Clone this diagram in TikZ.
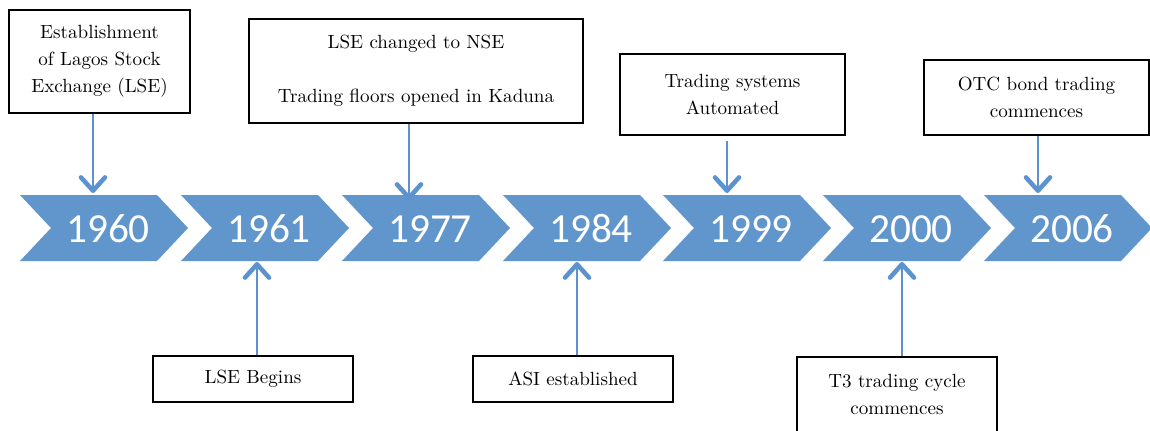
\documentclass[tikz,border=0pt]{standalone}
\usepackage{fontspec}
\newfontfamily\yearfont{Carlito}
\newfontfamily\boxfont{lmroman10-regular.otf}
\usetikzlibrary{arrows.meta}
\definecolor{chevblue}{RGB}{97,150,204}
\definecolor{linkblue}{RGB}{92,146,206}
\tikzset{
	chev/.style={fill=chevblue},
	yearlabel/.style={text=white, inner sep=0pt, font=\yearfont\fontsize{31}{36}\selectfont},
	eventbox/.style={draw, line width=1.2pt, align=center, inner sep=0pt, font=\boxfont\fontsize{14.3}{20.25}\selectfont},
	eventlink/.style={draw=linkblue, line width=2.2pt, -{Straight Barb[length=10pt,width=18pt,line width=3.4pt,round]}}
}
\begin{document}
\begin{tikzpicture}[x=0.75pt,y=-0.75pt]
	\path[fill=white,use as bounding box] (0,0) rectangle (1150,430);
	% chevrons
	\fill[chev] (20,195) -- ++(137,0) -- ++(31,33) -- ++(-31,33) -- ++(-137,0) -- ++(31,-33) -- cycle;
	\fill[chev] (181,195) -- ++(137,0) -- ++(31,33) -- ++(-31,33) -- ++(-137,0) -- ++(31,-33) -- cycle;
	\fill[chev] (342,195) -- ++(137,0) -- ++(31,33) -- ++(-31,33) -- ++(-137,0) -- ++(31,-33) -- cycle;
	\fill[chev] (503,195) -- ++(137,0) -- ++(31,33) -- ++(-31,33) -- ++(-137,0) -- ++(31,-33) -- cycle;
	\fill[chev] (663,195) -- ++(137,0) -- ++(31,33) -- ++(-31,33) -- ++(-137,0) -- ++(31,-33) -- cycle;
	\fill[chev] (823,195) -- ++(137,0) -- ++(31,33) -- ++(-31,33) -- ++(-137,0) -- ++(31,-33) -- cycle;
	\fill[chev] (984,195) -- ++(137,0) -- ++(31,33) -- ++(-31,33) -- ++(-137,0) -- ++(31,-33) -- cycle;
	\node[yearlabel] (y1960) at (108,229) {1960};
	\node[yearlabel] (y1961) at (269,229) {1961};
	\node[yearlabel] (y1977) at (430,229) {1977};
	\node[yearlabel] (y1984) at (591,229) {1984};
	\node[yearlabel] (y1999) at (751,229) {1999};
	\node[yearlabel] (y2000) at (911,229) {2000};
	\node[yearlabel] (y2006) at (1072,229) {2006};
	% event boxes
	\node[eventbox, minimum width=181*0.75pt, minimum height=103*0.75pt] (lagos) at (99.5,61.5) {Establishment\\of Lagos Stock\\Exchange (LSE)};
	\node[eventbox, minimum width=334*0.75pt, minimum height=104*0.75pt] (nse) at (416,71) {LSE changed to NSE\\[20.25pt]Trading floors opened in Kaduna};
	\node[eventbox, minimum width=225*0.75pt, minimum height=81*0.75pt] (auto) at (732.5,94.5) {Trading systems\\Automated};
	\node[eventbox, minimum width=225*0.75pt, minimum height=75*0.75pt] (otc) at (1036.5,97.5) {OTC bond trading\\commences};
	\node[eventbox, minimum width=200*0.75pt, minimum height=46*0.75pt] (begins) at (253,379) {LSE Begins};
	\node[eventbox, minimum width=200*0.75pt, minimum height=46*0.75pt] (asi) at (573,379) {ASI established};
	\node[eventbox, minimum width=200*0.75pt, minimum height=75*0.75pt] (tthree) at (897,394.5) {T3 trading cycle\\commences};
	% arrow ends on the chevrons
	\coordinate (p1960) at (93,193);
	\coordinate (p1961) at (257,262);
	\coordinate (p1977) at (409,200);
	\coordinate (p1984) at (577,262);
	\coordinate (p1999) at (727,193);
	\coordinate (p2000) at (902,262);
	\coordinate (p2006) at (1038,193);
	\draw[eventlink] (lagos.south -| p1960) -- (p1960);
	\draw[eventlink] (nse.south -| p1977) -- (p1977);
	\draw[eventlink, shorten <=3.75pt] (auto.south -| p1999) -- (p1999);
	\draw[eventlink] (otc.south -| p2006) -- (p2006);
	\draw[eventlink] (begins.north -| p1961) -- (p1961);
	\draw[eventlink] (asi.north -| p1984) -- (p1984);
	\draw[eventlink] (tthree.north -| p2000) -- (p2000);
\end{tikzpicture}
\end{document}
